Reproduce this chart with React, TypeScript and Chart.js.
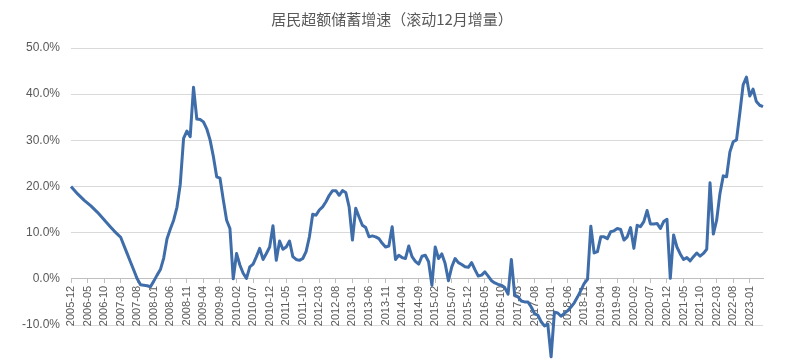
import React, { useEffect, useRef } from 'react';
import { Chart, registerables } from 'chart.js';

Chart.register(...registerables);

const TITLE = '居民超额储蓄增速（滚动12月增量）';
const START_YEAR = 2005;
const START_MONTH = 12;
const LABEL_EVERY = 5;

// Monthly values (%), 2005-12 .. 2023-05
const savingsGrowth = [
  20.0, 19.2, 18.4, 17.7, 17.0, 16.4, 15.8, 15.1, 14.4, 13.6,
  12.8, 12.0, 11.2, 10.4, 9.7, 9.0, 7.2, 5.4, 3.6, 1.8,
  0.0, -1.3, -1.4, -1.5, -1.7, -0.5, 0.8, 2.0, 4.5, 8.7,
  10.8, 12.7, 15.5, 20.5, 30.4, 32.0, 30.8, 41.5, 34.6, 34.5,
  34.0, 32.5, 30.1, 26.5, 22.1, 21.8, 17.1, 12.7, 10.9, 0.0,
  5.5, 3.0, 1.2, 0.1, 2.6, 3.2, 4.8, 6.6, 4.2, 5.5,
  6.9, 11.5, 4.0, 8.2, 6.4, 6.9, 8.2, 4.8, 4.2, 4.0,
  4.4, 5.9, 9.1, 14.0, 13.8, 14.9, 15.6, 16.7, 18.1, 19.1,
  19.1, 18.1, 19.1, 18.7, 15.6, 8.4, 15.3, 13.4, 11.6, 11.1,
  9.1, 9.3, 9.1, 8.7, 7.7, 6.9, 7.1, 11.3, 4.2, 5.1,
  4.6, 4.4, 7.1, 4.8, 3.8, 3.2, 4.9, 5.1, 3.7, -1.4,
  6.9, 4.4, 5.4, 3.3, -0.4, 2.6, 4.4, 3.5, 3.1, 2.6,
  2.5, 3.5, 2.0, 0.6, 0.8, 1.5, 0.6, -0.4, -0.9, -1.2,
  -1.4, -1.9, -3.3, 4.2, -3.5, -3.9, -4.8, -5.0, -5.0, -6.1,
  -7.5, -7.9, -9.3, -10.2, -9.8, -16.9, -7.2, -7.4, -8.1, -7.5,
  -6.9, -6.1, -5.2, -3.9, -2.5, -1.0, -0.1, 11.4, 5.6, 5.9,
  9.1, 9.1, 8.7, 10.2, 10.4, 10.9, 10.7, 8.4, 9.1, 11.1,
  6.6, 11.6, 11.3, 12.4, 14.8, 11.9, 11.9, 12.0, 10.9, 12.4,
  12.9, 0.1, 9.5, 6.9, 5.4, 4.2, 4.6, 3.9, 4.8, 5.6,
  4.9, 5.5, 6.4, 20.8, 9.7, 12.7, 18.5, 22.3, 22.1, 27.5,
  29.7, 30.1, 35.9, 42.0, 43.7, 39.6, 41.1, 38.4, 37.6, 37.3,
];

const monthLabels = savingsGrowth.map((_, i) => {
  const m = START_MONTH - 1 + i;
  const y = START_YEAR + Math.floor(m / 12);
  const mm = (m % 12) + 1;
  return `${y}-${String(mm).padStart(2, '0')}`;
});

const Y_MIN = -10;
const Y_MAX = 50;
const Y_STEP = 10;

export default function App() {
  const ref = useRef<HTMLCanvasElement | null>(null);

  useEffect(() => {
    document.body.style.margin = '0';
    const canvas = ref.current;
    if (!canvas) return;
    const latin = '"Liberation Sans", Arial, sans-serif';
    const chart = new Chart(canvas, {
      type: 'line',
      data: {
        labels: monthLabels,
        datasets: [
          {
            data: savingsGrowth,
            borderColor: '#3e6daa',
            borderWidth: 3,
            pointRadius: 0,
            tension: 0,
            fill: false,
            clip: false as any,
            borderJoinStyle: 'round',
          },
        ],
      },
      options: {
        responsive: false,
        animation: false,
        layout: { padding: { left: 21, right: 37, top: 0, bottom: 36 } },
        plugins: {
          legend: { display: false },
          tooltip: { enabled: false },
          title: {
            display: true,
            text: TITLE,
            color: '#595959',
            font: { size: 15, family: '"Noto Sans CJK SC", sans-serif', weight: 'normal' },
            padding: { top: 10, bottom: 20 },
          },
        },
        scales: {
          x: {
            type: 'category',
            position: { y: 0 } as any,
            offset: false,
            grid: { drawOnChartArea: false, drawTicks: true, tickLength: 4, color: '#bfbfbf' },
            border: { display: true, color: '#bfbfbf', width: 1 },
            ticks: {
              autoSkip: false,
              minRotation: 90,
              maxRotation: 90,
              padding: 3,
              color: '#595959',
              font: { size: 11, family: latin },
            },
            afterBuildTicks: (axis: any) => {
              axis.ticks = axis.ticks.filter((t: any) => t.value % LABEL_EVERY === 0);
            },
          },
          y: {
            min: Y_MIN,
            max: Y_MAX,
            ticks: {
              stepSize: Y_STEP,
              padding: 11,
              color: '#595959',
              font: { size: 12, family: latin },
              callback: (v: any) => `${Number(v).toFixed(1)}%`,
            },
            grid: { color: '#d9d9d9', drawTicks: false },
            border: { display: false },
            afterFit: (s: any) => {
              s.width = 50;
            },
          },
        },
      },
    });
    return () => chart.destroy();
  }, []);

  return (
    <div style={{ width: 800, height: 361, background: '#fff' }}>
      <canvas ref={ref} width={800} height={361} />
    </div>
  );
}
